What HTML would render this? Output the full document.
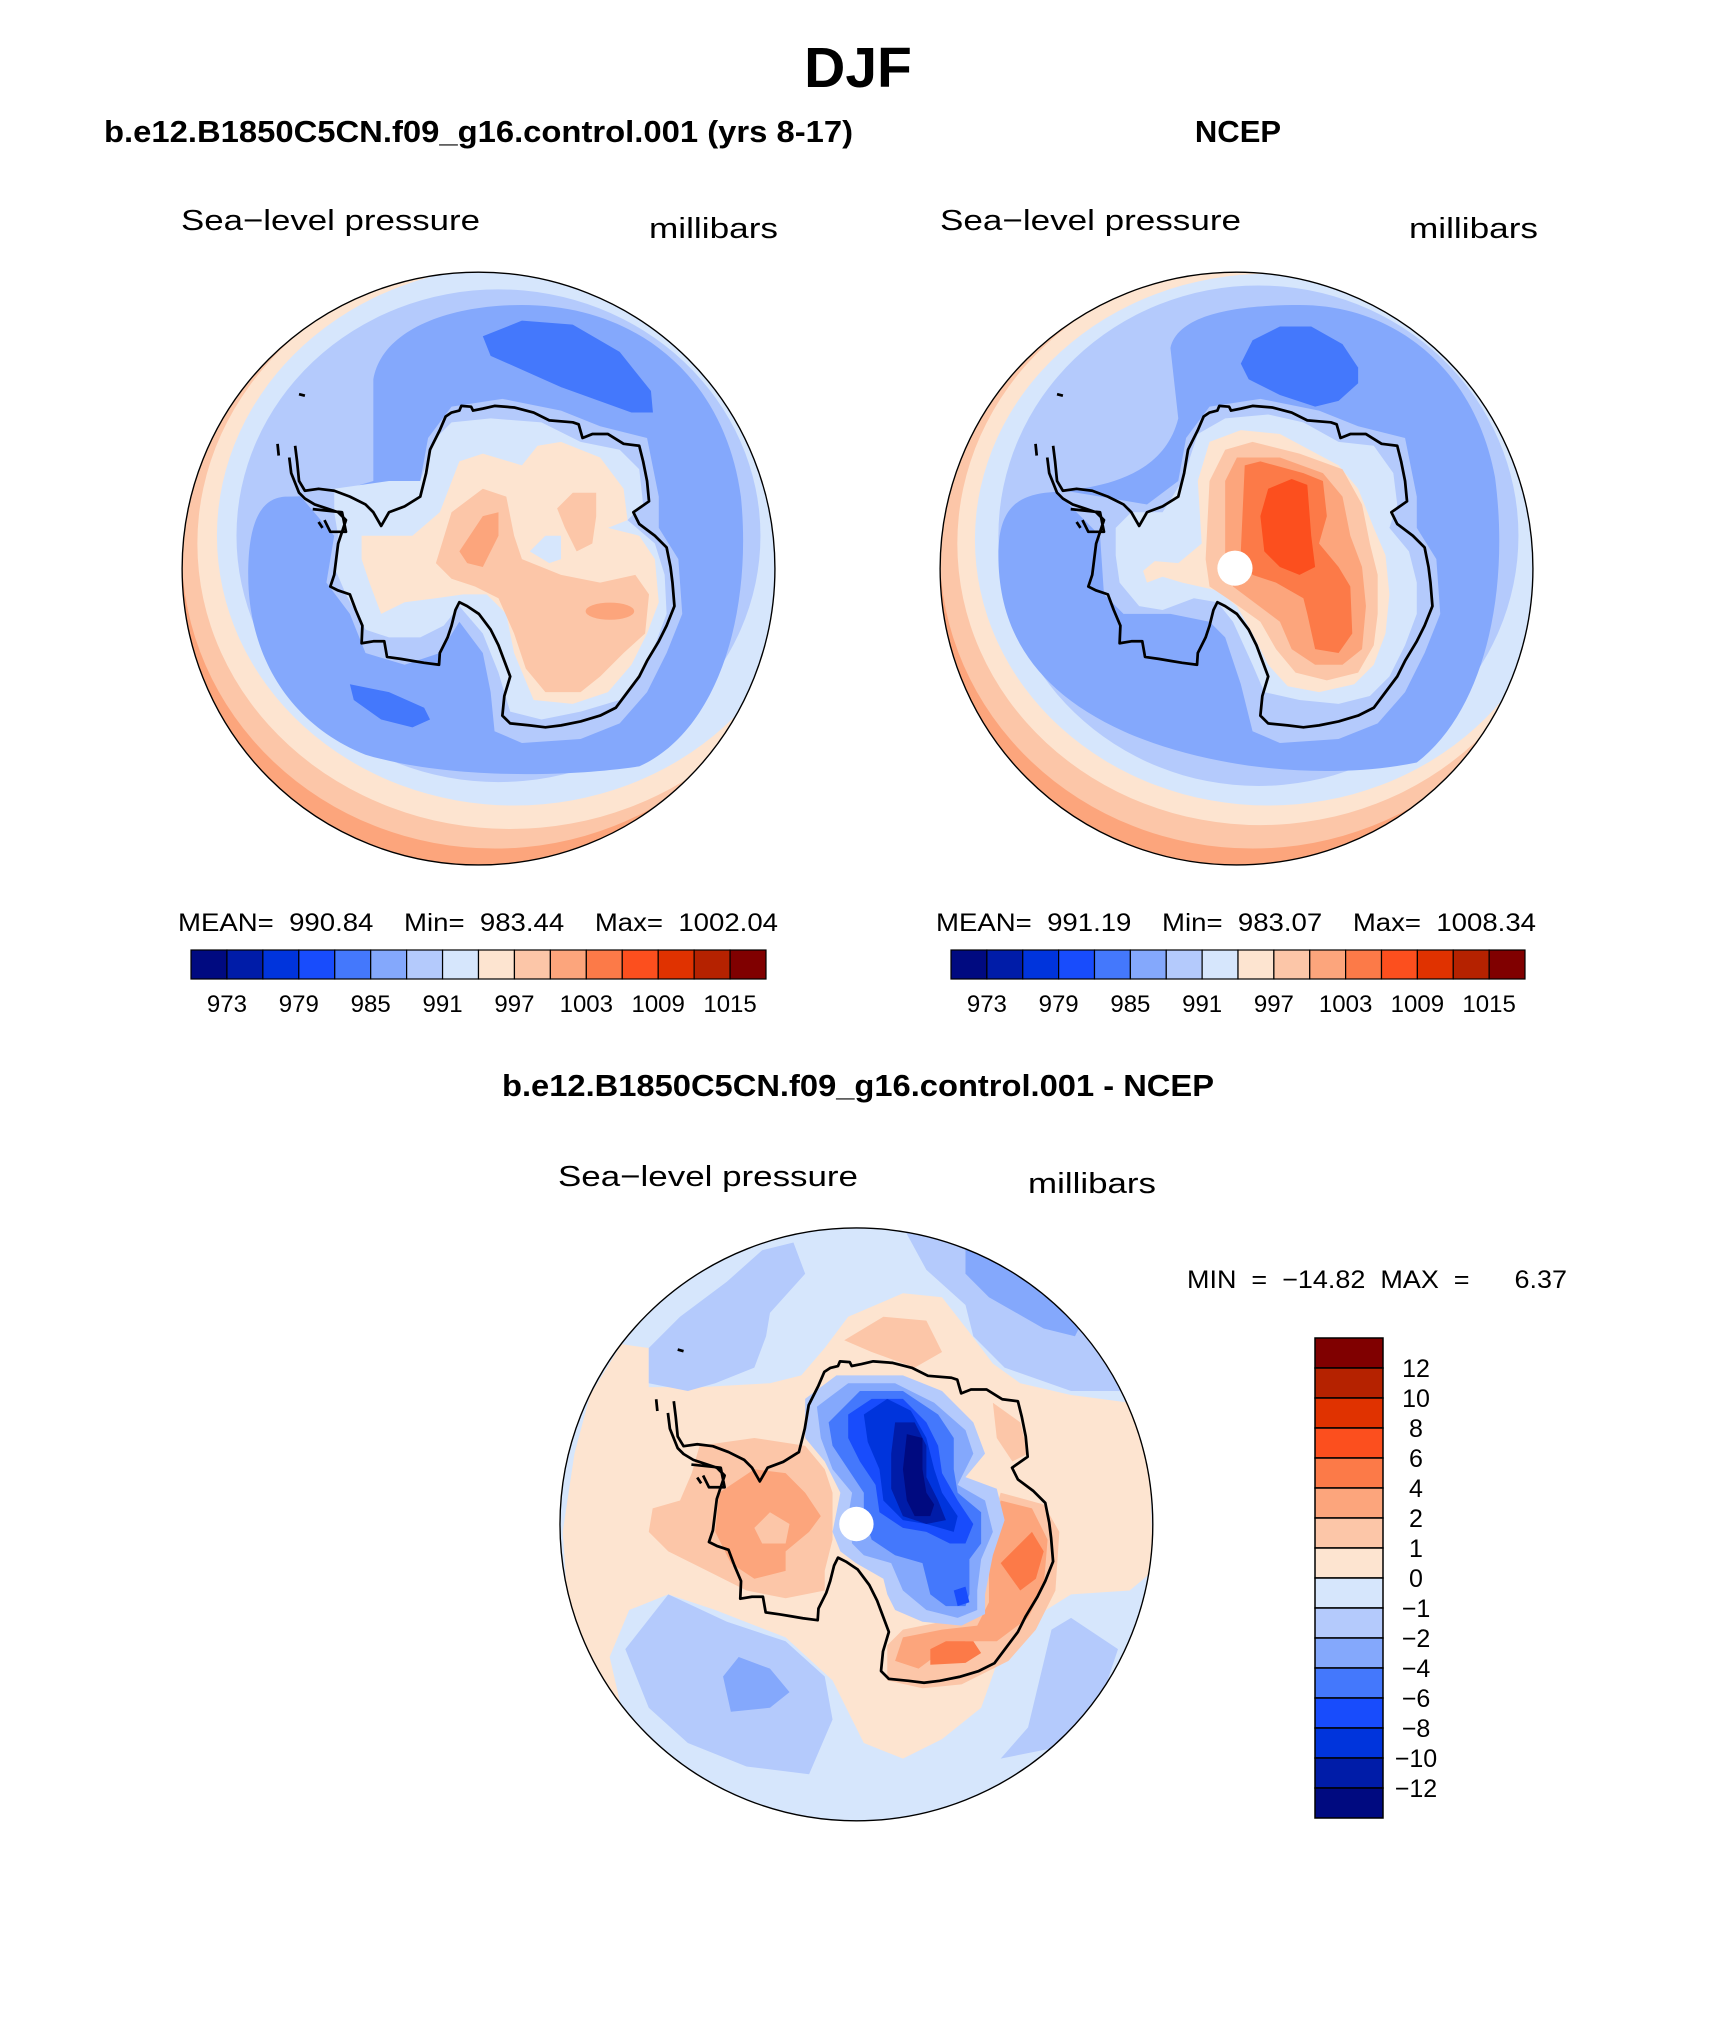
<!DOCTYPE html>
<html><head><meta charset="utf-8"><style>
html,body{margin:0;padding:0;background:#fff;}
svg{display:block;}
text{font-family:"Liberation Sans",sans-serif;fill:#000;white-space:pre;}
</style></head><body>
<svg id="fig" width="1710" height="2044" viewBox="0 0 1710 2044" xmlns="http://www.w3.org/2000/svg" xml:space="preserve">
<defs>
<clipPath id="disk"><circle cx="789" cy="784" r="758"/></clipPath>
<clipPath id="disk2"><circle cx="781" cy="781" r="758"/></clipPath>
<path id="coast" fill="none" stroke="#000" stroke-width="7" stroke-linejoin="round" d="M320,470 325,510 330,560 345,585 380,580 420,585 460,600 500,620 520,640 540,675 560,640 600,625 640,600 655,540 665,480 690,430 705,395 720,385 740,380 745,368 770,370 775,380 800,375 830,368 880,372 930,385 970,405 1030,410 1045,415 1055,450 1080,440 1120,440 1160,465 1200,470 1210,510 1220,560 1225,612 1185,640 1200,670 1240,700 1270,730 1280,780 1285,820 1290,880 1270,930 1250,970 1220,1020 1200,1060 1170,1100 1140,1140 1100,1160 1050,1175 1000,1185 960,1190 920,1185 870,1180 850,1160 855,1110 870,1060 855,1020 840,980 820,940 790,900 760,880 740,870 730,890 720,930 710,960 690,1000 688,1030 650,1025 620,1020 590,1015 555,1010 548,970 520,970 490,975 492,930 475,890 460,850 430,840 410,830 420,800 425,760 430,720 440,690 450,660 430,640 400,630 370,620 345,605 330,590 310,540 305,500 M365,632 440,640 450,690 410,690 395,660 M380,665 390,680 M275,465 278,495 M330,338 345,342"/>
</defs>

<text x="858" y="87" font-size="57" font-weight="bold" text-anchor="middle">DJF</text>
<text x="104" y="142" font-size="31" font-weight="bold" textLength="749" lengthAdjust="spacingAndGlyphs">b.e12.B1850C5CN.f09_g16.control.001 (yrs 8-17)</text>
<text x="1238" y="142" font-size="31" font-weight="bold" text-anchor="middle">NCEP</text>
<text x="181" y="230" font-size="29" textLength="299" lengthAdjust="spacingAndGlyphs">Sea−level pressure</text>
<text x="649" y="238" font-size="29" textLength="129" lengthAdjust="spacingAndGlyphs">millibars</text>
<text x="940" y="230" font-size="29" textLength="301" lengthAdjust="spacingAndGlyphs">Sea−level pressure</text>
<text x="1409" y="238" font-size="29" textLength="129" lengthAdjust="spacingAndGlyphs">millibars</text>

<!-- Left map -->
<g transform="translate(170,262) scale(0.39103)">
<g clip-path="url(#disk)">
<circle cx="789" cy="784" r="760" fill="#fca57c"/>
<ellipse cx="830" cy="740" rx="800" ry="760" fill="#fcc6a8"/>
<ellipse cx="870" cy="720" rx="800" ry="730" fill="#fde4d0"/>
<ellipse cx="880" cy="700" rx="760" ry="690" fill="#d6e6fc"/>
<ellipse cx="840" cy="700" rx="670" ry="630" fill="#b4cafc"/>
<path fill="#84a8fc" d="M520,300 C540,180 700,110 900,110 C1200,110 1420,300 1460,600 C1490,900 1400,1200 1200,1290 C1000,1320 700,1320 500,1260 C300,1180 200,1000 200,800 C200,650 240,600 300,600 C400,600 450,580 520,560 Z"/>
<path fill="#4478fc" d="M800,190 900,150 1030,160 1150,230 1230,330 1235,385 1180,385 1000,320 820,240Z"/>
<path fill="#4478fc" d="M460,1080 560,1100 650,1140 665,1170 620,1190 540,1170 470,1120Z"/>
<path fill="#b4cafc" d="M300,560 380,570 500,600 560,620 640,560 660,450 720,370 850,350 1000,380 1100,420 1220,450 1250,600 1250,680 1300,760 1310,900 1270,1000 1220,1100 1150,1180 1050,1220 900,1230 830,1200 820,1100 800,1000 740,920 690,1000 600,1030 500,1000 460,900 400,820 420,700 Z"/>
<path fill="#d6e6fc" d="M420,580 560,560 640,560 680,450 720,410 820,400 950,410 1050,460 1150,480 1200,530 1210,620 1170,660 1240,720 1265,800 1270,900 1240,980 1200,1060 1150,1120 1050,1150 950,1170 870,1150 840,1050 800,950 740,880 700,930 640,960 560,960 500,940 450,850 420,780 430,700 420,640Z"/>
<path fill="#fde4d0" d="M490,700 560,700 620,700 690,640 740,510 800,490 900,520 940,470 1000,460 1100,500 1160,580 1170,660 1120,680 1200,700 1240,760 1250,870 1220,950 1180,1030 1120,1100 1030,1130 930,1120 880,1000 860,900 810,850 750,850 680,860 600,870 540,900 510,820 490,760Z"/>
<path fill="#d6e6fc" d="M920,740 960,700 1000,700 1000,760 970,770Z"/>
<path fill="#fcc6a8" d="M680,770 720,640 800,580 860,600 880,700 900,760 1000,800 1100,820 1190,800 1225,850 1215,950 1160,1000 1100,1060 1050,1100 960,1100 910,1040 880,950 840,860 780,830 720,810Z"/>
<path fill="#fcc6a8" d="M990,630 1030,590 1090,590 1090,650 1080,720 1040,740 1010,680Z"/>
<path fill="#fca57c" d="M740,740 800,650 840,640 840,700 800,780 760,770Z"/>
<ellipse cx="1125" cy="893" rx="62" ry="22" fill="#fca57c"/>
</g>
<use href="#coast"/>
<circle cx="789" cy="784" r="758" fill="none" stroke="#000" stroke-width="3.5"/>
</g>

<!-- Right map -->
<g transform="translate(928,262) scale(0.39103)">
<g clip-path="url(#disk)">
<circle cx="789" cy="784" r="760" fill="#fca57c"/>
<ellipse cx="830" cy="740" rx="800" ry="760" fill="#fcc6a8"/>
<ellipse cx="850" cy="720" rx="775" ry="720" fill="#fde4d0"/>
<ellipse cx="870" cy="710" rx="750" ry="680" fill="#d6e6fc"/>
<ellipse cx="845" cy="700" rx="665" ry="640" fill="#b4cafc"/>
<path fill="#84a8fc" d="M620,220 C640,130 800,110 950,110 C1200,110 1400,280 1450,550 C1490,850 1420,1150 1250,1280 C1000,1330 700,1290 500,1200 C280,1100 180,950 180,750 C180,640 220,600 300,590 C420,580 600,560 640,400 Z"/>
<path fill="#4478fc" d="M800,260 830,200 900,165 980,165 1060,210 1100,270 1100,310 1050,355 990,370 900,340 820,300Z"/>
<path fill="#b4cafc" d="M320,580 500,610 560,620 640,560 660,450 720,370 850,350 1000,380 1100,420 1220,450 1250,600 1250,680 1300,760 1310,900 1270,1000 1220,1100 1150,1180 1050,1220 900,1230 830,1200 800,1080 760,960 720,920 620,900 500,900 450,850 440,700 Z"/>
<path fill="#d6e6fc" d="M480,680 520,640 600,640 650,560 690,440 760,400 870,390 960,410 1050,460 1140,470 1190,540 1200,620 1180,680 1230,740 1250,820 1250,900 1220,980 1180,1060 1130,1110 1050,1130 950,1120 860,1100 830,1030 780,920 740,870 680,860 600,890 540,880 490,820 480,750Z"/>
<path fill="#fde4d0" d="M550,790 580,765 640,770 700,720 690,560 720,460 800,430 900,440 1050,520 1100,580 1140,680 1170,750 1180,850 1170,950 1140,1030 1090,1080 1000,1100 920,1085 870,1030 830,950 790,880 740,840 650,820 600,805 560,820Z"/>
<path fill="#fcc6a8" d="M710,760 720,560 760,480 830,460 950,490 1060,530 1110,620 1130,720 1150,800 1150,900 1140,980 1100,1050 1020,1070 940,1050 890,990 850,920 780,870 720,830Z"/>
<path fill="#fca57c" d="M760,760 760,560 790,500 900,500 1010,540 1060,600 1080,700 1110,780 1120,880 1110,990 1060,1030 990,1030 930,990 900,920 820,860 780,830Z"/>
<path fill="#fc7a48" d="M800,740 810,520 850,510 960,540 1010,560 1020,650 1000,720 1050,780 1080,830 1085,950 1050,1000 990,990 970,900 960,860 890,820 830,800Z"/>
<path fill="#fc4f1e" d="M850,650 870,580 930,555 970,570 980,700 990,780 950,800 900,780 860,740Z"/>
<circle cx="785" cy="783" r="45" fill="#fff"/>
</g>
<use href="#coast"/>
<circle cx="789" cy="784" r="758" fill="none" stroke="#000" stroke-width="3.5"/>
</g>

<text x="178" y="931" font-size="25" textLength="600" lengthAdjust="spacingAndGlyphs">MEAN=  990.84    Min=  983.44    Max=  1002.04</text>
<text x="936" y="931" font-size="25" textLength="600" lengthAdjust="spacingAndGlyphs">MEAN=  991.19    Min=  983.07    Max=  1008.34</text>
<g id="cbLeft"></g>
<g id="cbRight"></g>

<text x="502" y="1096" font-size="31" font-weight="bold" textLength="712" lengthAdjust="spacingAndGlyphs">b.e12.B1850C5CN.f09_g16.control.001 - NCEP</text>
<text x="558" y="1186" font-size="29" textLength="300" lengthAdjust="spacingAndGlyphs">Sea−level pressure</text>
<text x="1028" y="1193" font-size="29" textLength="128" lengthAdjust="spacingAndGlyphs">millibars</text>
<text x="1187" y="1288" font-size="25" textLength="380" lengthAdjust="spacingAndGlyphs">MIN  =  −14.82  MAX  =      6.37</text>

<!-- Bottom difference map -->
<g transform="translate(551,1219) scale(0.39103)">
<g clip-path="url(#disk2)">
<circle cx="781" cy="781" r="760" fill="#d6e6fc"/>
<path fill="#fde4d0" d="M180,320 250,330 250,430 380,430 560,420 640,400 700,330 760,250 900,190 1000,200 1070,290 1130,370 1200,420 1330,450 1480,470 1530,600 1540,900 1480,950 1330,960 1250,1010 1150,1110 1100,1250 1000,1330 900,1380 800,1340 720,1180 600,1070 420,1000 300,960 200,1000 150,1120 180,1250 120,1300 50,1100 30,800 60,600 100,450Z"/>
<path fill="#fde4d0" d="M0,1400 200,1420 400,1490 600,1560 0,1560Z"/>
<path fill="#b4cafc" d="M250,330 330,250 450,160 540,80 620,60 650,140 560,240 550,300 520,380 420,420 350,440 250,420Z"/>
<path fill="#b4cafc" d="M900,20 1060,60 1300,150 1450,300 1470,440 1330,440 1160,380 1080,300 1060,220 960,130Z"/>
<path fill="#84a8fc" d="M1060,70 1200,120 1380,220 1340,300 1260,280 1120,200 1060,140Z"/>
<path fill="#b4cafc" d="M190,1100 300,960 450,1030 600,1080 700,1170 720,1280 660,1420 500,1400 350,1340 250,1250Z"/>
<path fill="#84a8fc" d="M440,1170 480,1120 560,1150 610,1210 560,1250 460,1260Z"/>
<path fill="#b4cafc" d="M1150,1380 1220,1300 1280,1050 1330,1020 1450,1100 1400,1250 1300,1350Z"/>
<path fill="#fcc6a8" d="M380,580 520,560 650,580 700,640 720,700 720,820 700,900 700,950 600,970 500,950 400,900 300,850 250,800 260,740 330,720 360,650Z"/>
<path fill="#fca57c" d="M430,700 520,640 600,650 650,700 690,760 660,800 600,850 600,900 520,920 460,880 420,800Z"/>
<path fill="#fcc6a8" d="M520,790 560,750 610,780 600,830 540,830Z"/>
<path fill="#fcc6a8" d="M750,310 850,250 960,260 1000,340 930,380 820,340Z"/>
<path fill="#fcc6a8" d="M1130,470 1200,520 1220,600 1180,620 1140,560Z"/>
<path fill="#fcc6a8" d="M1150,700 1260,730 1300,800 1290,950 1240,1050 1170,1130 1050,1190 950,1200 860,1180 860,1090 900,1050 1000,1030 1080,1010 1110,930 1110,850 1130,770Z"/>
<path fill="#fca57c" d="M1150,720 1230,740 1270,820 1260,940 1220,1020 1140,1080 1060,1080 980,1120 940,1150 880,1130 900,1070 1000,1050 1090,1040 1120,980 1120,870 1130,790Z"/>
<path fill="#fc7a48" d="M1150,880 1230,800 1260,850 1240,920 1200,950Z"/>
<path fill="#fc7a48" d="M970,1100 1010,1080 1080,1080 1100,1110 1060,1135 970,1140Z"/>
<path fill="#b4cafc" d="M650,460 730,400 900,400 1000,440 1080,520 1110,600 1060,660 1140,690 1160,770 1130,860 1110,960 1110,1010 1050,1040 950,1030 880,1000 860,960 850,920 780,880 740,850 720,800 740,700 700,620 650,560Z"/>
<path fill="#84a8fc" d="M680,480 760,420 880,420 980,470 1060,540 1080,600 1040,680 1110,720 1130,800 1100,870 1090,950 1090,1000 1040,1020 960,1000 900,950 870,880 800,860 770,830 760,760 770,700 720,640 690,560Z"/>
<path fill="#4478fc" d="M710,520 790,440 900,440 990,500 1030,560 1030,640 1040,700 1100,750 1100,830 1070,870 1070,960 1060,990 1010,990 970,960 950,880 880,860 820,820 800,760 800,700 760,640 720,580Z"/>
<path fill="#184cfc" d="M760,500 820,460 900,460 960,520 990,580 1000,650 1040,720 1080,780 1060,830 1020,830 960,800 900,790 840,750 830,680 790,620 760,560Z"/>
<path fill="#184cfc" d="M1030,950 1060,940 1070,980 1040,990Z"/>
<path fill="#0034dc" d="M800,500 860,460 920,490 960,560 980,640 1000,700 1040,760 1030,800 960,780 900,770 850,720 840,640 810,570Z"/>
<path fill="#001ca8" d="M880,520 930,520 960,580 960,660 990,720 1010,770 960,780 900,760 870,690 870,600Z"/>
<path fill="#000a80" d="M910,550 950,560 950,640 960,700 980,730 970,760 930,760 910,720 900,640Z"/>
<circle cx="781" cy="780" r="44" fill="#fff"/>
</g>
<use href="#coast" transform="translate(-6,-4)"/>
<circle cx="781" cy="781" r="758" fill="none" stroke="#000" stroke-width="3.5"/>
</g>

<g id="cbDiff"></g>
</svg>
<script>
const fillColors = ["#000a80","#001ca8","#0034dc","#184cfc","#4478fc","#84a8fc","#b4cafc","#d6e6fc","#fde4d0","#fcc6a8","#fca57c","#fc7a48","#fc4f1e","#e03200","#b52200","#800000"];
const absLevels = [970,973,976,979,982,985,988,991,994,997,1000,1003,1006,1009,1012,1015];
const absTickLabels = ["973","979","985","991","997","1003","1009","1015"];
const diffLevels = [-12,-10,-8,-6,-4,-2,-1,0,1,2,4,6,8,10,12];
const diffTickLabels = ["12","10","8","6","4","2","1","0","−1","−2","−4","−6","−8","−10","−12"];
const NS = "http://www.w3.org/2000/svg";

function horizBar(id, x0, x1, y0, h) {
  const g = document.getElementById(id);
  const n = fillColors.length;
  const w = (x1 - x0) / n;
  fillColors.forEach((c, i) => {
    const r = document.createElementNS(NS, "rect");
    r.setAttribute("x", x0 + i * w); r.setAttribute("y", y0);
    r.setAttribute("width", w); r.setAttribute("height", h);
    r.setAttribute("fill", c); r.setAttribute("stroke", "#000"); r.setAttribute("stroke-width", "1.2");
    
    
    g.appendChild(r);
  });
  absTickLabels.forEach((lab, j) => {
    const k = absLevels.indexOf(+lab);
    const t = document.createElementNS(NS, "text");
    t.setAttribute("x", x0 + k * w); t.setAttribute("y", y0 + h + 33);
    t.setAttribute("font-size", "24"); t.setAttribute("text-anchor", "middle");
    t.textContent = lab;
    
    
    g.appendChild(t);
  });
}
horizBar("cbLeft", 191, 766, 950, 29);
horizBar("cbRight", 951, 1525, 950, 29);

(function(){
  const g = document.getElementById("cbDiff");
  const n = fillColors.length, x0 = 1315, w = 68, y0 = 1338, h = 30;
  for (let i = 0; i < n; i++) {
    const r = document.createElementNS(NS, "rect");
    r.setAttribute("x", x0); r.setAttribute("y", y0 + i * h);
    r.setAttribute("width", w); r.setAttribute("height", h);
    r.setAttribute("fill", fillColors[n - 1 - i]); r.setAttribute("stroke", "#000"); r.setAttribute("stroke-width", "1.5");
    
    
    g.appendChild(r);
  }
  diffTickLabels.forEach((lab, j) => {
    const t = document.createElementNS(NS, "text");
    t.setAttribute("x", 1416); t.setAttribute("y", y0 + (j + 1) * h + 9);
    t.setAttribute("font-size", "25"); t.setAttribute("text-anchor", "middle");
    t.textContent = lab;
    
    
    g.appendChild(t);
  });
})();
</script>
</body></html>
